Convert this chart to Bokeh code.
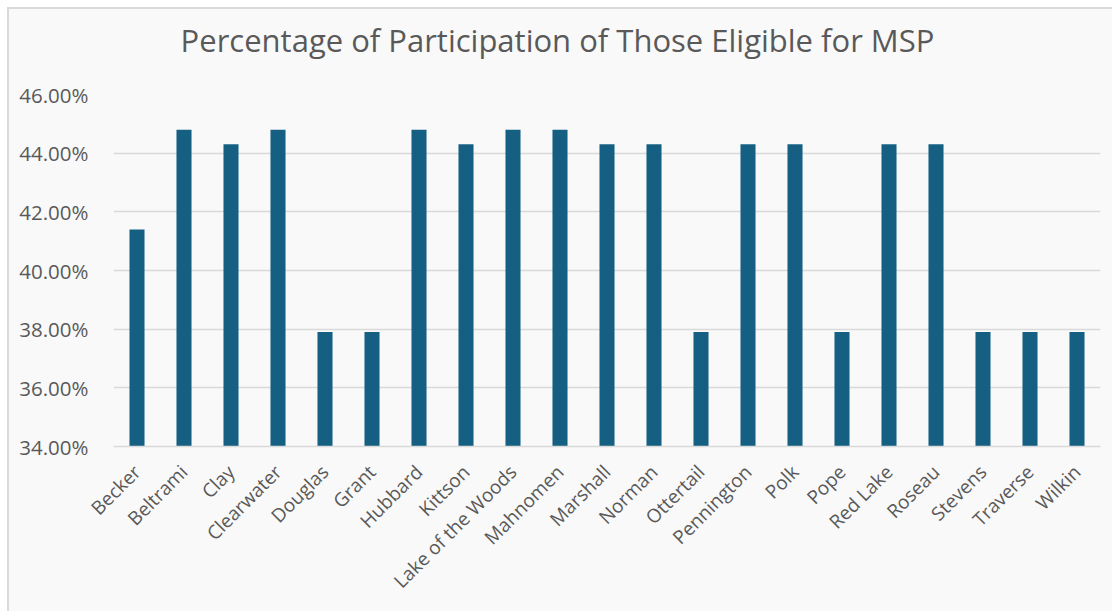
from bokeh.plotting import figure
from bokeh.models import ColumnDataSource, NumeralTickFormatter, FixedTicker, Range1d, Div
from bokeh.layouts import column
from bokeh.embed import file_html
from bokeh.resources import INLINE
import math

counties = ["Becker", "Beltrami", "Clay", "Clearwater", "Douglas", "Grant", "Hubbard",
            "Kittson", "Lake of the Woods", "Mahnomen", "Marshall", "Norman", "Ottertail",
            "Pennington", "Polk", "Pope", "Red Lake", "Roseau", "Stevens", "Traverse", "Wilkin"]
participation = [0.414, 0.448, 0.443, 0.448, 0.379, 0.379, 0.448,
                 0.443, 0.448, 0.448, 0.443, 0.443, 0.379,
                 0.443, 0.443, 0.379, 0.443, 0.443, 0.379, 0.379, 0.379]
y_ticks = [0.34, 0.36, 0.38, 0.40, 0.42, 0.44, 0.46]
title_text = "Percentage of Participation of Those Eligible for MSP"

FONT = "Open Sans"
TXT = "#595959"
BG = "#f9f9f9"

src = ColumnDataSource(dict(county=counties, value=participation))

title = Div(text=title_text, width=1097, height=66, margin=0,
            styles={"font-family": "'Open Sans'", "font-size": "31px", "color": TXT,
                    "text-align": "center", "line-height": "62px",
                    "background-color": BG, "white-space": "nowrap"})

p = figure(x_range=counties, y_range=Range1d(0.34, 0.46),
           width=1105, height=536, output_backend="svg", toolbar_location=None,
           margin=0,
           min_border_left=104, min_border_right=14, min_border_top=19, min_border_bottom=165,
           background_fill_color=BG, border_fill_color=BG,
           outline_line_color=None)

p.vbar(x="county", top="value", bottom=0.34, width=0.32, source=src,
       fill_color="#156082", line_color=None)

p.yaxis.ticker = FixedTicker(ticks=y_ticks)
p.yaxis.formatter = NumeralTickFormatter(format="0.00%")
p.yaxis.axis_line_color = None
p.yaxis.major_tick_line_color = None
p.yaxis.minor_tick_line_color = None
p.yaxis.major_label_text_font = FONT
p.yaxis.major_label_text_font_size = "20.5px"
p.yaxis.major_label_text_color = TXT
p.yaxis.major_label_standoff = 19

p.xaxis.axis_line_color = "#d9d9d9"
p.xaxis.axis_line_width = 1.5
p.xaxis.major_tick_line_color = None
p.xaxis.minor_tick_line_color = None
p.xaxis.major_label_orientation = math.pi / 4
p.xaxis.major_label_text_font = FONT
p.xaxis.major_label_text_font_size = "19px"
p.xaxis.major_label_text_color = TXT
p.xaxis.major_label_standoff = 16

p.xgrid.grid_line_color = None
p.ygrid.grid_line_color = "#d9d9d9"
p.ygrid.grid_line_width = 1.5
p.x_range.range_padding = 0

layout = column(title, p, spacing=0, margin=(7, 0, 0, 7),
                styles={"border-top": "2px solid #d9d9d9", "border-left": "2px solid #d9d9d9",
                        "background-color": BG})

open("out.html", "w").write(file_html(layout, INLINE))
